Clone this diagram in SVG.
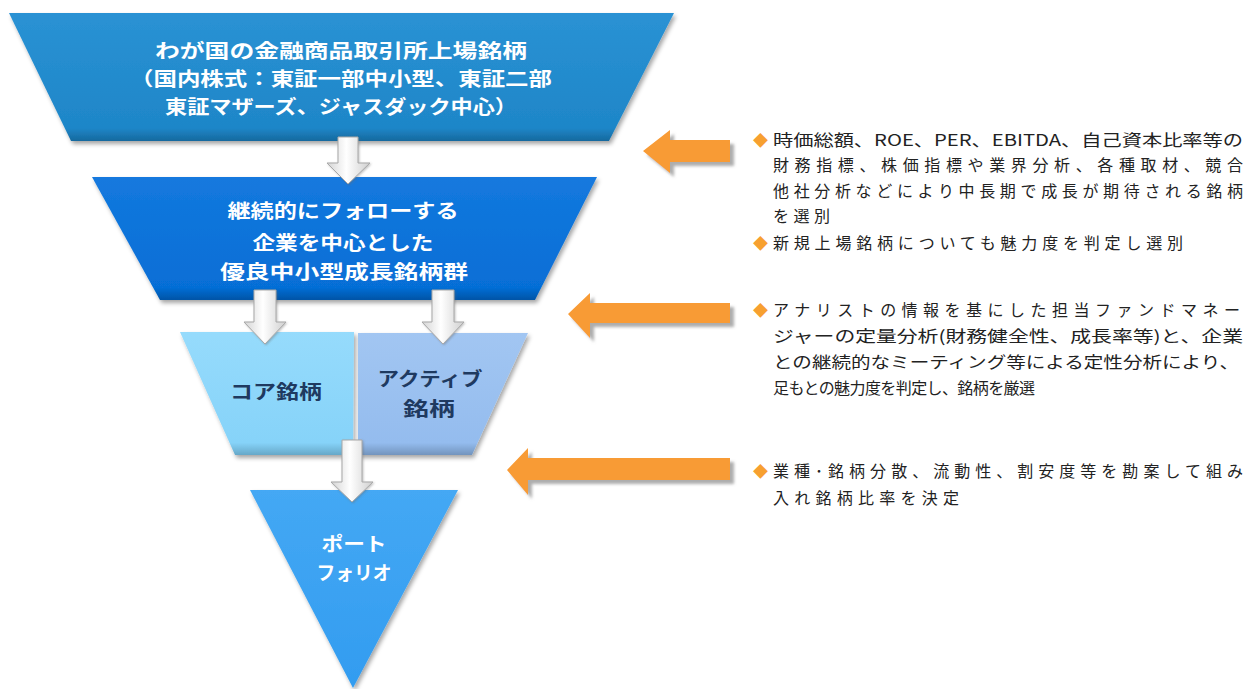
<svg xmlns="http://www.w3.org/2000/svg" width="1250" height="689" viewBox="0 0 1250 689">
<style>
.lbl{font-family:"Noto Sans CJK JP","Liberation Sans",sans-serif;font-weight:700;font-size:19px;text-anchor:middle}
.w{fill:#ffffff}
.d{fill:#1f3a60}
.desc{font-family:"Noto Sans CJK JP","Liberation Sans",sans-serif;font-size:16px;fill:#222222}
.dia{font-family:"Noto Sans CJK JP","Liberation Sans",sans-serif;font-size:15px;fill:#f7a030}
.oarrow{fill:#f89b36;filter:url(#osh)}
.warrow{fill:url(#wg);stroke:#a8a8a8;stroke-width:1;filter:url(#wsh)}
</style>
<defs>
<filter id="sh" x="-10%" y="-10%" width="120%" height="125%">
<feDropShadow dx="2" dy="3" stdDeviation="2" flood-color="#000" flood-opacity="0.35"/>
</filter>
<filter id="osh" x="-10%" y="-20%" width="125%" height="150%">
<feDropShadow dx="4" dy="4" stdDeviation="1.5" flood-color="#777" flood-opacity="0.6"/>
</filter>
<filter id="wsh" x="-30%" y="-10%" width="160%" height="130%">
<feDropShadow dx="1" dy="1" stdDeviation="1" flood-color="#666" flood-opacity="0.4"/>
</filter>
<linearGradient id="wg" x1="0" y1="0" x2="1" y2="0">
<stop offset="0" stop-color="#d4d4d4"/>
<stop offset="0.45" stop-color="#ffffff"/>
<stop offset="1" stop-color="#cfcfcf"/>
</linearGradient>
<linearGradient id="g1" x1="0" y1="0" x2="0" y2="1">
<stop offset="0" stop-color="#2a92d4"/>
<stop offset="0.9" stop-color="#1e86c8"/>
<stop offset="1" stop-color="#16699e"/>
</linearGradient>
<linearGradient id="g2" x1="0" y1="0" x2="0" y2="1">
<stop offset="0" stop-color="#1479de"/>
<stop offset="0.9" stop-color="#066ed6"/>
<stop offset="1" stop-color="#0454a6"/>
</linearGradient>
<linearGradient id="g3" x1="0" y1="0" x2="0" y2="1">
<stop offset="0" stop-color="#96dbfc"/>
<stop offset="0.9" stop-color="#86d3f9"/>
<stop offset="1" stop-color="#66a8c8"/>
</linearGradient>
<linearGradient id="g4" x1="0" y1="0" x2="0" y2="1">
<stop offset="0" stop-color="#a2c6f2"/>
<stop offset="0.9" stop-color="#94bcee"/>
<stop offset="1" stop-color="#7294bd"/>
</linearGradient>
<linearGradient id="g5" x1="0" y1="0" x2="0" y2="1">
<stop offset="0" stop-color="#44a8f4"/>
<stop offset="1" stop-color="#329cf0"/>
</linearGradient>
</defs>

<g id="node-listed">
<polygon points="9,13 674,13 609,141 71,141" fill="url(#g1)" filter="url(#sh)"/>
<text class="lbl w" x="341" y="58" textLength="372" lengthAdjust="spacingAndGlyphs">わが国の金融商品取引所上場銘柄</text>
<text class="lbl w" x="341" y="86" textLength="422" lengthAdjust="spacingAndGlyphs">（国内株式：東証一部中小型、東証二部</text>
<text class="lbl w" x="341" y="114" textLength="352" lengthAdjust="spacingAndGlyphs">東証マザーズ、ジャスダック中心）</text>
</g>

<g id="node-follow">
<polygon points="92,177 597,177 535,300 160,300" fill="url(#g2)" filter="url(#sh)"/>
<text class="lbl w" x="343" y="218" textLength="231" lengthAdjust="spacingAndGlyphs">継続的にフォローする</text>
<text class="lbl w" x="343" y="250" textLength="181" lengthAdjust="spacingAndGlyphs">企業を中心とした</text>
<text class="lbl w" x="344" y="279" textLength="248" lengthAdjust="spacingAndGlyphs">優良中小型成長銘柄群</text>
</g>

<g id="node-core">
<polygon points="180,332 354,332 353,455 235,455" fill="url(#g3)" filter="url(#sh)"/>
<text class="lbl d" x="276" y="399" textLength="92" lengthAdjust="spacingAndGlyphs">コア銘柄</text>
</g>

<g id="node-active">
<polygon points="358,333 528,333 472,455 358,455" fill="url(#g4)" filter="url(#sh)"/>
<text class="lbl d" x="430" y="386" textLength="105" lengthAdjust="spacingAndGlyphs">アクティブ</text>
<text class="lbl d" x="429" y="416" textLength="52" lengthAdjust="spacingAndGlyphs">銘柄</text>
</g>

<g id="node-portfolio">
<polygon points="250,490 458,490 353,688" fill="url(#g5)" filter="url(#sh)"/>
<text class="lbl w" x="354" y="551" textLength="65" lengthAdjust="spacingAndGlyphs">ポート</text>
<text class="lbl w" x="354" y="580" textLength="75" lengthAdjust="spacingAndGlyphs">フォリオ</text>
</g>

<g id="connectors">
<polygon class="warrow" points="338,137 358,137 358,163 370,163 348,184 327,163 338,163"/>
<polygon class="warrow" points="254,290 276,290 276,322 286,322 265,344 244,322 254,322"/>
<polygon class="warrow" points="432,290 454,290 454,322 464,322 443,344 422,322 432,322"/>
<polygon class="warrow" points="342,440 362,440 362,482 373,482 352,502 331,482 342,482"/>
</g>

<g id="orange-arrows">
<polygon class="oarrow" points="643,151 670,130 670,140 730,140 730,162 670,162 670,173"/>
<polygon class="oarrow" points="568,314 590,293 590,303 730,303 730,323 590,323 590,338"/>
<polygon class="oarrow" points="507,470 528,448 528,458 730,458 730,480 528,480 528,495"/>
</g>

<g id="text-1">
<text class="dia" x="753" y="146">◆</text>
<text class="desc" x="773" y="146" textLength="470" lengthAdjust="spacingAndGlyphs">時価総額、ROE、PER、EBITDA、自己資本比率等の</text>
<text class="desc" x="773" y="171" textLength="470" lengthAdjust="spacing">財務指標、株価指標や業界分析、各種取材、競合</text>
<text class="desc" x="773" y="197" textLength="470" lengthAdjust="spacing">他社分析などにより中長期で成長が期待される銘柄</text>
<text class="desc" x="773" y="222" textLength="57" lengthAdjust="spacing">を選別</text>
<text class="dia" x="753" y="249">◆</text>
<text class="desc" x="773" y="249" textLength="410" lengthAdjust="spacing">新規上場銘柄についても魅力度を判定し選別</text>
</g>

<g id="text-2">
<text class="dia" x="753" y="316">◆</text>
<text class="desc" x="773" y="316" textLength="467" lengthAdjust="spacing">アナリストの情報を基にした担当ファンドマネー</text>
<text class="desc" x="773" y="342" textLength="470" lengthAdjust="spacingAndGlyphs">ジャーの定量分析(財務健全性、成長率等)と、企業</text>
<text class="desc" x="773" y="368" textLength="466" lengthAdjust="spacingAndGlyphs">との継続的なミーティング等による定性分析により、</text>
<text class="desc" x="773" y="394" textLength="262" lengthAdjust="spacing">足もとの魅力度を判定し、銘柄を厳選</text>
</g>

<g id="text-3">
<text class="dia" x="753" y="477">◆</text>
<text class="desc" x="773" y="477" textLength="470" lengthAdjust="spacing">業種･銘柄分散、流動性、割安度等を勘案して組み</text>
<text class="desc" x="773" y="504" textLength="186" lengthAdjust="spacing">入れ銘柄比率を決定</text>
</g>
</svg>
